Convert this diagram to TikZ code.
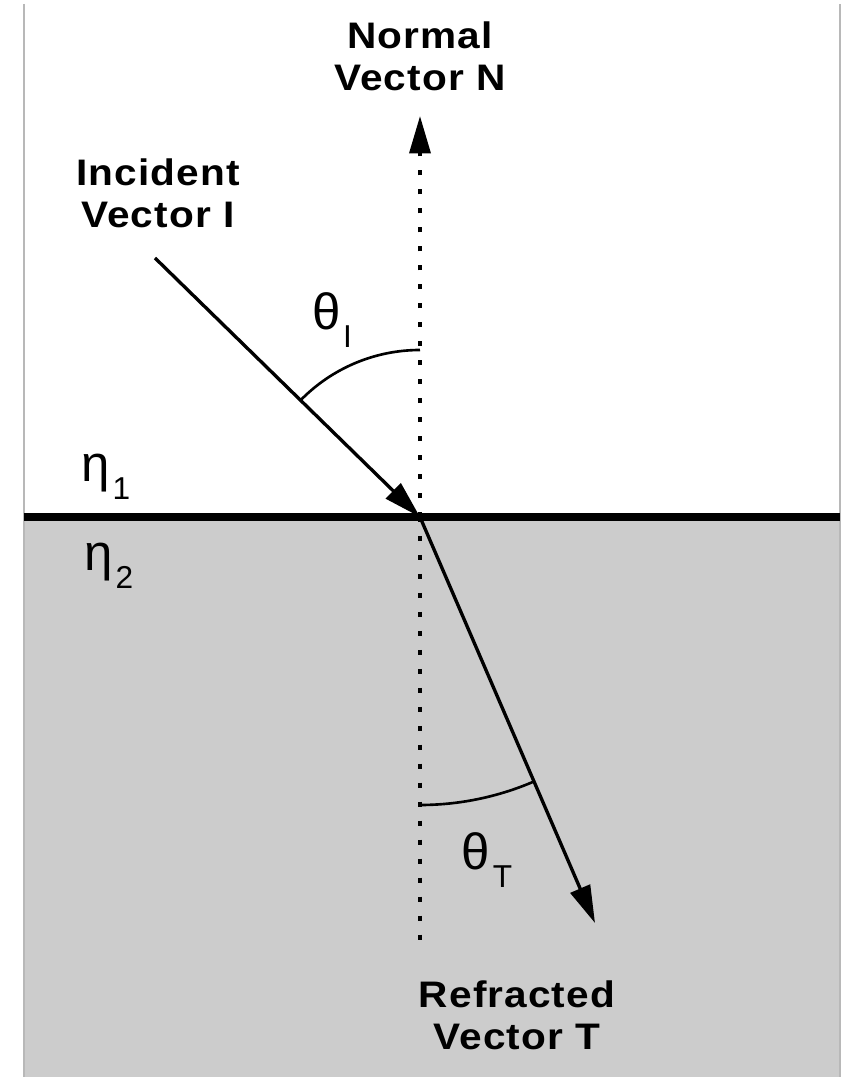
\documentclass[tikz,border=0pt]{standalone}
\usepackage{fontspec}
\usepackage{tikz}
\usetikzlibrary{arrows.meta}
\newfontfamily\lblfont{Liberation Sans}[UprightFont={* Bold}, FakeStretch=1.1, LetterSpace=3]
\newfontfamily\grkfont{Liberation Sans}
\newcommand{\lowsub}[1]{\kern0.05em\raisebox{-0.35em}{\fontsize{18}{20}\selectfont #1}}
\definecolor{mediumgray}{gray}{0.8}
\definecolor{framegray}{gray}{0.72}
\tikzset{
  interface/.style  = {draw=black, line width=4pt},
  normalline/.style = {line width=2.1pt, dash pattern=on 3pt off 7.8pt},
  raytip/.style     = {-{Triangle[length=7.5mm, width=4.2mm]}},
  ray/.style        = {raytip, line width=1.9pt},
  anglearc/.style   = {line width=1.5pt},
  vlabel/.style     = {font=\lblfont\fontsize{21}{24}\selectfont,
                       align=center, inner sep=0pt},
  mlabel/.style     = {font=\grkfont\fontsize{29}{32}\selectfont, inner sep=0pt},
}

\begin{document}
\begin{tikzpicture}[x=1cm, y=1cm]
  \useasboundingbox (-8.4,-11.2) rectangle (8.56,10.34);
  % the two media
  \fill[mediumgray] (-7.92,0) rectangle (8.4,-11.2);
  \draw[framegray, line width=0.8pt] (-7.92,10.26) -- (-7.92,-11.2)
    (8.4,10.26) -- (8.4,-11.2);
  \draw[interface] (-7.92,0) -- (8.4,0);
  \coordinate (O)  at (0,0);
  \coordinate (N)  at (0,8.02);
  \coordinate (Nb) at (0,-8.56);
  \coordinate (I)  at (-5.3,5.18);
  \coordinate (T)  at (3.5,-8.12);
  % normal
  \draw[normalline] (O) -- (Nb);
  \draw[normalline, raytip] (O) -- (N);
  % incident and refracted rays
  \draw[ray] (I) -- (O);
  \draw[ray] (O) -- (T);
  \draw[anglearc] (O) ++(90:3.34) arc[start angle=90, end angle=135.6, radius=3.34];
  \draw[anglearc] (O) ++(-90:5.76) arc[start angle=-90, end angle=-66.9, radius=5.76];
  % labels
  \node[vlabel] (normtxt) at (0.0,9.22)  {Normal\\Vector N};
  \node[vlabel] (inctxt)  at (-5.24,6.48) {Incident\\Vector I};
  \node[vlabel] (reftxt)  at (1.94,-9.96) {Refracted\\Vector T};
  \node[mlabel] (etaone)  at (-6.28,0.8)  {η\lowsub{1}};
  \node[mlabel] (etatwo)  at (-6.22,-0.98) {η\lowsub{2}};
  \node[mlabel] (thetai)  at (-1.76,3.94) {θ\lowsub{I}};
  \node[mlabel] (thetat)  at (1.34,-6.86) {θ\lowsub{T}};
\end{tikzpicture}
\end{document}
